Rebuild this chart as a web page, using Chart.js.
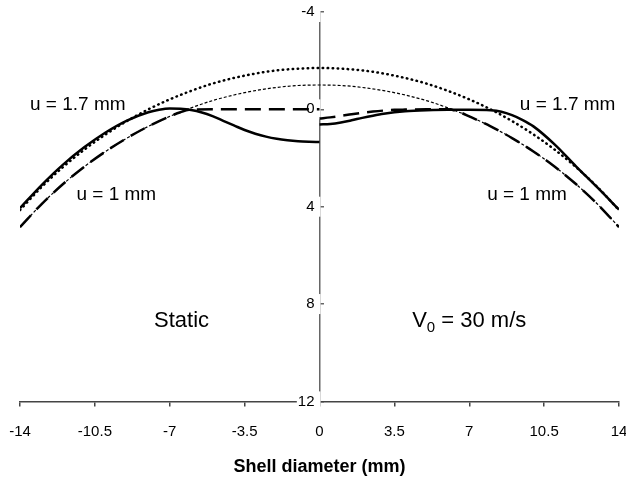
<!DOCTYPE html>
<html>
<head>
<meta charset="utf-8">
<script src="https://cdn.jsdelivr.net/npm/chart.js@4/dist/chart.umd.min.js"></script>
<style>
  html, body { margin: 0; padding: 0; background: #ffffff; }
  #wrap { width: 626px; height: 480px; }
</style>
</head>
<body>
<div id="wrap"><canvas id="chart"></canvas></div>
<script>
// Axis ticks
const xTicks = [-14, -10.5, -7, -3.5, 0, 3.5, 7, 10.5, 14];
const yTicks = [-4, 0, 4, 8, 12];

// Undeformed shell profiles (mm), full diameter
const refX = [-14, -13, -12, -11, -10, -9, -8, -7, -6, -5, -4, -3, -2, -1, 0,
              1, 2, 3, 4, 5, 6, 7, 8, 9, 10, 11, 12, 13, 14];
const refU17 = [4.14, 3.20, 2.38, 1.66, 1.03, 0.48, 0.00, -0.41, -0.76, -1.06, -1.29, -1.47, -1.60, -1.67, -1.70,
                -1.67, -1.60, -1.47, -1.29, -1.06, -0.76, -0.41, 0.00, 0.48, 1.03, 1.66, 2.38, 3.20, 4.14];
const refU10 = [4.84, 3.90, 3.08, 2.36, 1.73, 1.18, 0.70, 0.29, -0.06, -0.36, -0.59, -0.77, -0.90, -0.98, -1.00,
                -0.98, -0.90, -0.77, -0.59, -0.36, -0.06, 0.29, 0.70, 1.18, 1.73, 2.36, 3.08, 3.90, 4.84];

// Deformed profiles, static load (left half)
const staticX17 = [-14, -13, -12, -11, -10, -9, -8, -7.5, -7, -6.5, -6, -5.5, -5, -4.5, -4, -3.5, -3, -2.5, -2, -1.5, -1, -0.5, 0];
const staticU17 = [4.06, 3.12, 2.28, 1.56, 0.95, 0.46, 0.12, 0.02, -0.03, -0.02, 0.03, 0.13, 0.28, 0.47, 0.66, 0.85, 1.00, 1.12, 1.21, 1.27, 1.31, 1.33, 1.34];
const staticX10 = [-14, -13, -12, -11, -10, -9, -8, -7, -6.5, -6, -5, -4, -3, -2, -1, 0];
const staticU10 = [4.84, 3.90, 3.08, 2.36, 1.73, 1.18, 0.70, 0.29, 0.12, 0.01, 0, 0, 0, 0, 0, 0];

// Deformed profiles, impact at V0 = 30 m/s (right half)
const impactX17 = [0, 0.5, 1, 1.5, 2, 2.5, 3, 3.5, 4, 5, 6, 7, 8, 8.5, 9, 9.5, 10, 11, 12, 13, 14];
const impactU17 = [0.62, 0.60, 0.54, 0.45, 0.35, 0.26, 0.18, 0.12, 0.08, 0.04, 0.02, 0.02, 0.04, 0.10, 0.24, 0.44, 0.70, 1.45, 2.35, 3.22, 4.12];
const impactX10 = [0, 0.5, 1, 1.5, 2, 2.5, 3, 3.5, 4, 5, 6, 6.5, 7, 8, 9, 10, 11, 12, 13, 14];
const impactU10 = [0.38, 0.33, 0.27, 0.20, 0.14, 0.09, 0.05, 0.02, 0.01, 0, 0, 0.10, 0.29, 0.70, 1.18, 1.73, 2.36, 3.08, 3.90, 4.84];

const pts = (xs, ys) => xs.map((x, i) => ({ x: x, y: ys[i] }));

// Text placed on the plot in data units
const notes = [
  { parts: [['u = 1.7 mm', false]], x: -11.3, y: -0.2, size: 19 },
  { parts: [['u = 1 mm', false]], x: -9.5, y: 3.5, size: 19 },
  { parts: [['u = 1.7 mm', false]], x: 11.6, y: -0.2, size: 19 },
  { parts: [['u = 1 mm', false]], x: 9.7, y: 3.5, size: 19 },
  { parts: [['Static', false]], x: -6.45, y: 8.7, size: 22 },
  { parts: [['V', false], ['0', true], [' = 30 m/s', false]], x: 7.0, y: 8.7, size: 22 }
];

const FONT = '"Liberation Sans", Arial, Helvetica, sans-serif';

const notePlugin = {
  id: 'notes',
  afterDatasetsDraw(chart) {
    const ctx = chart.ctx;
    const xs = chart.scales.x, ys = chart.scales.y;
    ctx.save();
    ctx.fillStyle = '#000';
    ctx.textBaseline = 'middle';
    ctx.textAlign = 'left';
    notes.forEach(n => {
      const subSize = Math.round(n.size * 0.7);
      let total = 0;
      n.parts.forEach(([t, sub]) => {
        ctx.font = (sub ? subSize : n.size) + 'px ' + FONT;
        total += ctx.measureText(t).width;
      });
      let px = xs.getPixelForValue(n.x) - total / 2;
      const py = ys.getPixelForValue(n.y);
      n.parts.forEach(([t, sub]) => {
        ctx.font = (sub ? subSize : n.size) + 'px ' + FONT;
        ctx.fillText(t, px, sub ? py + n.size * 0.3 : py);
        px += ctx.measureText(t).width;
      });
    });
    ctx.restore();
  }
};

const line = (data, width, dash, cap) => ({
  data: data,
  showLine: true,
  pointRadius: 0,
  borderColor: '#000',
  backgroundColor: '#000',
  borderWidth: width,
  borderDash: dash,
  borderCapStyle: cap || 'butt',
  cubicInterpolationMode: 'monotone',
  fill: false
});

new Chart(document.getElementById('chart'), {
  type: 'scatter',
  data: {
    datasets: [
      line(pts(refX, refU10), 1.2, [3, 2]),
      line(pts(refX, refU17), 2.5, [0.5, 4.5], 'round'),
      line(pts(staticX10, staticU10), 2.5, [16, 8]),
      line(pts(impactX10, impactU10), 2.5, [16, 8]),
      line(pts(staticX17, staticU17), 2.5, []),
      line(pts(impactX17, impactU17), 2.5, [])
    ]
  },
  options: {
    responsive: true,
    maintainAspectRatio: false,
    animation: false,
    events: [],
    layout: { padding: { left: 20, right: 7, top: 12, bottom: 0 } },
    plugins: { legend: { display: false }, tooltip: { enabled: false } },
    scales: {
      x: {
        type: 'linear',
        position: 'bottom',
        min: -14, max: 14,
        z: 2,
        afterBuildTicks: s => { s.ticks = xTicks.map(v => ({ value: v })); },
        // end labels may overhang the plot edges
        afterFit: s => { s.paddingLeft = 0; s.paddingRight = 0; },
        grid: { drawOnChartArea: false, drawTicks: true, tickLength: 5, color: '#444', lineWidth: 1.5 },
        border: { display: true, color: '#444', width: 1.5 },
        ticks: { color: '#000', font: { family: FONT, size: 15 }, padding: 16, maxRotation: 0 },
        title: { display: true, text: 'Shell diameter (mm)', color: '#000',
                 font: { family: FONT, size: 18, weight: 'bold' }, padding: { top: 0, bottom: 2 } }
      },
      y: {
        type: 'linear',
        position: { x: 0 },
        reverse: true,
        min: -4, max: 12,
        z: 1,
        afterBuildTicks: s => { s.ticks = yTicks.map(v => ({ value: v })); },
        afterFit: s => { s.width = 0; },
        grid: { drawOnChartArea: false, drawTicks: true, tickLength: -5, color: '#666', lineWidth: 1.5 },
        border: { display: true, color: '#666', width: 1.5 },
        ticks: { color: '#000', font: { family: FONT, size: 15 },
                 showLabelBackdrop: true, backdropColor: '#fff', backdropPadding: 1,
                 callback: v => String(v) + '\u2004' }
      }
    }
  },
  plugins: [notePlugin]
});
</script>
</body>
</html>
